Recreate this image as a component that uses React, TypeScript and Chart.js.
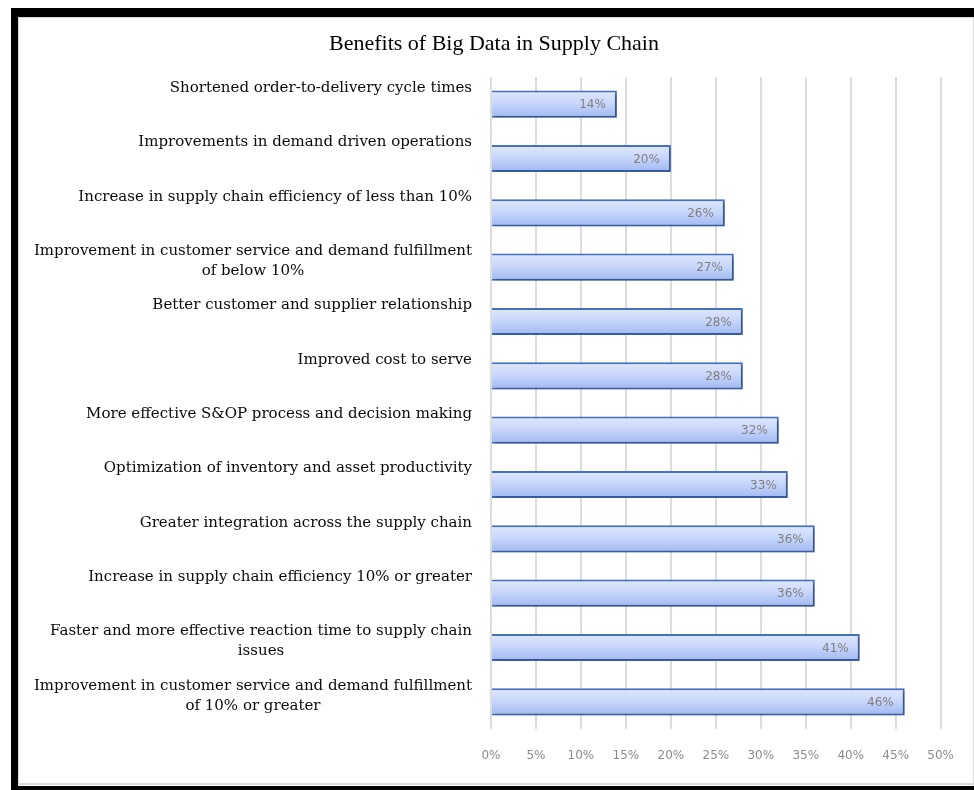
import React, { useEffect, useRef } from "react";
import { Chart, registerables } from "chart.js";

Chart.register(...registerables);

const TITLE = "Benefits of Big Data in Supply Chain";

const categories: string[][] = [
  ["Shortened order-to-delivery cycle times"],
  ["Improvements in demand driven operations"],
  ["Increase in supply chain efficiency of less than 10%"],
  ["Improvement in customer service and demand fulfillment", "of below 10%"],
  ["Better customer and supplier relationship"],
  ["Improved cost to serve"],
  ["More effective S&OP process and decision making"],
  ["Optimization of inventory and asset productivity"],
  ["Greater integration across the supply chain"],
  ["Increase in supply chain efficiency 10% or greater"],
  ["Faster and more effective reaction time to supply chain", "issues"],
  ["Improvement in customer service and demand fulfillment", "of 10% or greater"],
];

const values: number[] = [14, 20, 26, 27, 28, 28, 32, 33, 36, 36, 41, 46];

const xTicks: number[] = [0, 5, 10, 15, 20, 25, 30, 35, 40, 45, 50];

const W = 974;
const H = 790;

const framePlugin = {
  id: "frame",
  beforeDraw(chart: any) {
    const ctx = chart.ctx;
    ctx.save();
    ctx.fillStyle = "#ffffff";
    ctx.fillRect(0, 0, W, H);
    ctx.fillStyle = "#d9d9d9";
    ctx.fillRect(18, 17, W - 18, 1);
    ctx.fillRect(18, 17, 1, H - 17);
    ctx.fillRect(18, 783, W - 18, 2);
    ctx.fillRect(W - 1, 17, 1, H - 17);
    ctx.fillStyle = "#000000";
    ctx.fillRect(11, 8, W - 11, 9);
    ctx.fillRect(11, 8, 7, H - 8);
    ctx.fillRect(11, 786, W - 11, 4);
    ctx.restore();
  },
};

const barShadowPlugin = {
  id: "barShadow",
  beforeDatasetsDraw(chart: any) {
    const ctx = chart.ctx;
    ctx.save();
    ctx.shadowColor = "rgba(0,0,0,0.30)";
    ctx.shadowBlur = 3;
    ctx.shadowOffsetX = 2;
    ctx.shadowOffsetY = 2;
  },
  afterDatasetsDraw(chart: any) {
    chart.ctx.restore();
  },
};

const labelsPlugin = {
  id: "textLabels",
  afterDraw(chart: any) {
    const ctx = chart.ctx;
    const y = chart.scales.y;
    const meta = chart.getDatasetMeta(0);
    ctx.save();
    ctx.fillStyle = "#000000";
    ctx.font = '22px "Liberation Serif"';
    ctx.textAlign = "center";
    ctx.textBaseline = "middle";
    ctx.fillText(TITLE, 494, 44);

    ctx.font = '15px "DejaVu Serif"';
    ctx.fillStyle = "#0a0a0a";
    const right = 472;
    categories.forEach((lines, i) => {
      const cy = y.getPixelForValue(i);
      const widths = lines.map((l) => ctx.measureText(l).width);
      const bw = Math.max(...widths);
      const cx = right - bw / 2;
      lines.forEach((l, j) => {
        ctx.fillText(l, cx, cy - 16 + j * 20);
      });
    });

    ctx.font = '12px "DejaVu Sans"';
    ctx.fillStyle = "#808080";
    ctx.textAlign = "right";
    meta.data.forEach((bar: any, i: number) => {
      ctx.fillText(values[i] + "%", bar.x - 11, bar.y + 1);
    });
    ctx.restore();
  },
};

export default function App() {
  const ref = useRef<HTMLCanvasElement>(null);

  useEffect(() => {
    if (!ref.current) return;
    const chart = new Chart(ref.current, {
      type: "bar",
      data: {
        labels: categories.map((c) => c.join(" ")),
        datasets: [
          {
            data: values,
            backgroundColor: (c: any) => {
              const chartObj = c.chart;
              const ys = chartObj.scales && chartObj.scales.y;
              if (!ys || c.dataIndex === undefined) return "#c3d3f8";
              const cy = ys.getPixelForValue(c.dataIndex);
              const half = (ys.height / categories.length) * 0.25;
              if (!isFinite(cy) || !isFinite(half) || half <= 0) return "#c3d3f8";
              const g = chartObj.ctx.createLinearGradient(0, cy - half, 0, cy + half);
              g.addColorStop(0, "#dfe8fd");
              g.addColorStop(0.45, "#c9d7fa");
              g.addColorStop(1, "#9fb9f2");
              return g;
            },
            borderColor: "#4570c4",
            borderWidth: 2,
            borderSkipped: "start",
            barPercentage: 0.5,
            categoryPercentage: 1,
          },
        ],
      },
      options: {
        indexAxis: "y",
        responsive: false,
        animation: false,
        devicePixelRatio: 1,
        layout: { padding: { left: 491, right: 32, top: 77, bottom: 0 } },
        plugins: {
          legend: { display: false },
          title: { display: false },
          tooltip: { enabled: false },
        },
        scales: {
          y: {
            display: false,
          },
          x: {
            min: 0,
            max: 50,
            afterBuildTicks: (scale: any) => {
              scale.ticks = xTicks.map((v) => ({ value: v }));
            },
            afterFit: (scale: any) => {
              scale.height = 61;
            },
            border: { display: false },
            grid: {
              color: "#dcdcdc",
              lineWidth: 2,
              drawTicks: false,
            },
            ticks: {
              padding: 20,
              color: "#8c8c8c",
              font: { family: "DejaVu Sans", size: 12 },
              callback: (v: any) => v + "%",
              maxRotation: 0,
            },
          },
        },
      },
      plugins: [framePlugin, barShadowPlugin, labelsPlugin],
    });
    return () => chart.destroy();
  }, []);

  return (
    <div style={{ position: "fixed", left: 0, top: 0, width: W, height: H, background: "#fff" }}>
      <canvas ref={ref} width={W} height={H} style={{ width: W, height: H, display: "block" }} />
    </div>
  );
}
